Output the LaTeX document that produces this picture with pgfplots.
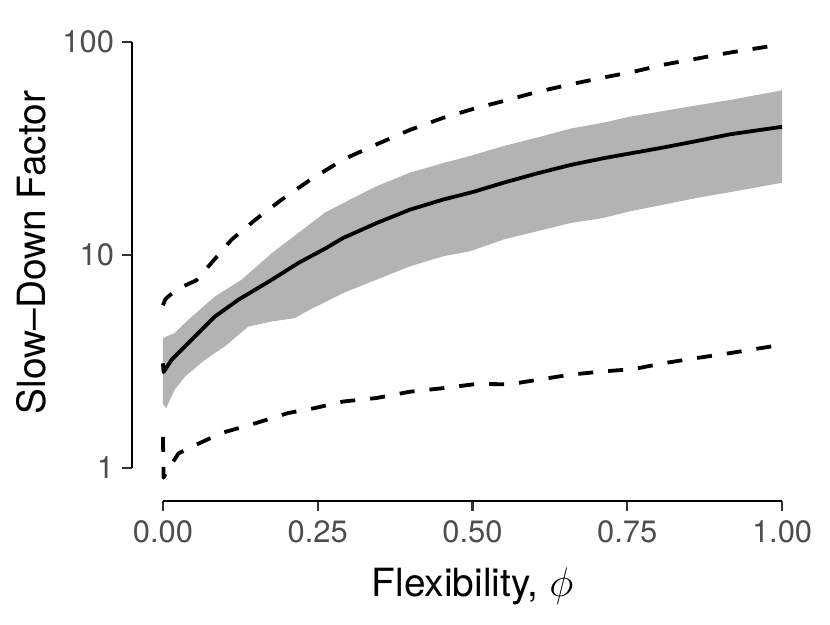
\documentclass[border=0pt]{standalone}
\usepackage{pgfplots}
\pgfplotsset{compat=1.18}
\usepackage{pgfplotstable}
\usepackage{fontspec}
\setmainfont{TeX Gyre Heros}
\definecolor{gray70}{HTML}{B3B3B3}
\definecolor{gray30}{HTML}{4D4D4D}
\definecolor{gray20}{HTML}{333333}

\pgfplotstableread{
x y
0.000 3.10
0.001 2.82
0.014 3.22
0.041 3.86
0.084 5.14
0.122 6.16
0.176 7.65
0.219 9.17
0.262 10.7
0.291 12.0
0.345 14.1
0.399 16.3
0.453 18.2
0.500 19.7
0.550 21.8
0.604 24.1
0.658 26.4
0.711 28.4
0.754 29.9
0.808 31.9
0.862 34.2
0.916 36.8
1.000 39.9
}\dataMedian

\pgfplotstableread{
x y
0.000 4.07
0.019 4.30
0.041 4.96
0.084 6.38
0.127 7.65
0.176 10.2
0.219 12.7
0.262 15.8
0.291 17.5
0.345 21.0
0.399 24.3
0.453 27.0
0.496 29.1
0.550 32.4
0.604 35.5
0.658 39.1
0.711 41.7
0.754 44.5
0.808 47.3
0.862 50.3
0.916 53.3
1.000 59.2
1.000 21.8
0.916 19.7
0.862 18.5
0.808 17.2
0.754 16.0
0.711 14.9
0.658 14.1
0.604 12.9
0.550 11.8
0.496 10.4
0.453 9.85
0.399 8.84
0.345 7.65
0.291 6.62
0.262 6.00
0.237 5.53
0.213 5.05
0.176 4.87
0.138 4.61
0.100 3.72
0.068 3.22
0.036 2.69
0.019 2.33
0.005 1.91
0.000 2.00
}\dataRibbon

\pgfplotstableread{
x y
0.000 5.80
0.004 6.20
0.012 6.50
0.032 7.10
0.054 7.60
0.073 8.80
0.111 11.8
0.149 14.6
0.192 18.2
0.237 22.4
0.291 28.0
0.345 33.0
0.399 38.6
0.453 44.0
0.501 48.4
0.550 52.7
0.604 58.1
0.658 63.1
0.711 67.9
0.765 72.9
0.808 78.0
0.862 83.3
0.916 89.0
1.000 97.3
}\dataUpper

\pgfplotstableread{
x y
0.000 1.40
0.001 0.90
0.006 0.96
0.011 1.01
0.025 1.17
0.047 1.26
0.095 1.46
0.149 1.62
0.202 1.81
0.245 1.91
0.291 2.05
0.345 2.13
0.399 2.28
0.453 2.37
0.507 2.48
0.560 2.47
0.604 2.59
0.658 2.74
0.711 2.84
0.760 2.91
0.808 3.10
0.862 3.28
0.916 3.46
1.000 3.79
}\dataLower

\begin{document}
\begin{tikzpicture}
\begin{axis}[
  at={(0,0)}, anchor=south west,
  scale only axis,
  width=340.5bp, height=239.5bp,
  ymode=log, log basis y=10,
  xmin=-0.05, xmax=1.05,
  ymin=0.700, ymax=123.8,
  axis x line*=bottom, axis y line*=left,
  axis line style={draw=none},
  xtick={0,0.25,0.5,0.75,1},
  xticklabels={0.00,0.25,0.50,0.75,1.00},
  ytick={1,10,100},
  yticklabels={1,10,100},
  minor ytick={},
  tick align=outside,
  major tick length=5bp,
  tick style={draw=gray20, line width=1.1bp},
  tick label style={font=\fontsize{15.5}{16}\selectfont, text=gray30},
  xticklabel style={anchor=north, yshift=-1.5bp},
  yticklabel style={anchor=east, xshift=-0.5bp},
  label style={font=\fontsize{19.5}{21}\selectfont, text=black},
  xlabel={Flexibility, $\phi$},
  xlabel style={at={(axis description cs:0.5,-0.2004)}, anchor=base},
  ylabel={Slow--Down Factor},
  ylabel style={at={(axis description cs:-0.1483,0.5188)}, anchor=center},
  clip=false,
]
\addplot[fill=gray70, draw=none] table {\dataRibbon} -- cycle;
\addplot[black, line width=1.9bp, line join=round] table {\dataMedian};
\addplot[black, line width=1.9bp, dash pattern=on 7.5bp off 7.5bp, line join=round] table {\dataUpper};
\addplot[black, line width=1.9bp, dash pattern=on 7.5bp off 7.5bp, line join=round] table {\dataLower};
\draw[black, line width=1.1bp] (axis cs:-0.05,1) -- (axis cs:-0.05,100);
\draw[black, line width=1.1bp] (axis cs:0,0.700) -- (axis cs:1,0.700);
\end{axis}
\pgfresetboundingbox
\path[use as bounding box] (-66bp,-62bp) rectangle (349bp,250.5bp);
\end{tikzpicture}
\end{document}
